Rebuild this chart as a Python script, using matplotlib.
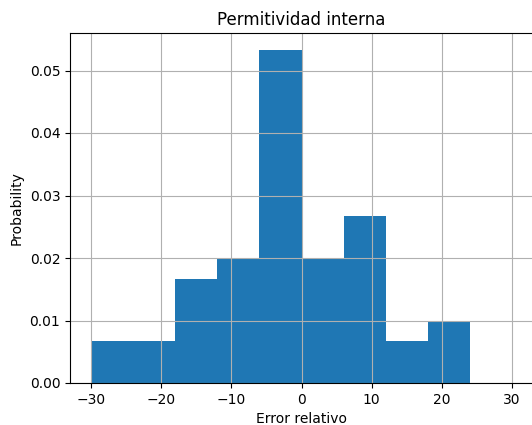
import matplotlib
matplotlib.use("Agg")
import matplotlib.pyplot as plt
import numpy as np

bin_edges = [-30, -24, -18, -12, -6, 0, 6, 12, 18, 24, 30]
bin_counts = [2, 2, 5, 6, 16, 6, 8, 2, 3, 0]
title = "Permitividad interna"
xlabel = "Error relativo"
ylabel = "Probability"

fig = plt.figure(figsize=(5.32, 4.25), dpi=100)
ax = fig.add_axes([70/532, 42/425, 463/532, 350/425])

centers = [(a + b) / 2 for a, b in zip(bin_edges[:-1], bin_edges[1:])]
ax.hist(centers, bins=bin_edges, weights=bin_counts, density=True, color="#1f77b4")
ax.grid(True)
ax.set_title(title)
ax.set_xlabel(xlabel)
ax.set_ylabel(ylabel)

fig.savefig("out.png", dpi=100)
